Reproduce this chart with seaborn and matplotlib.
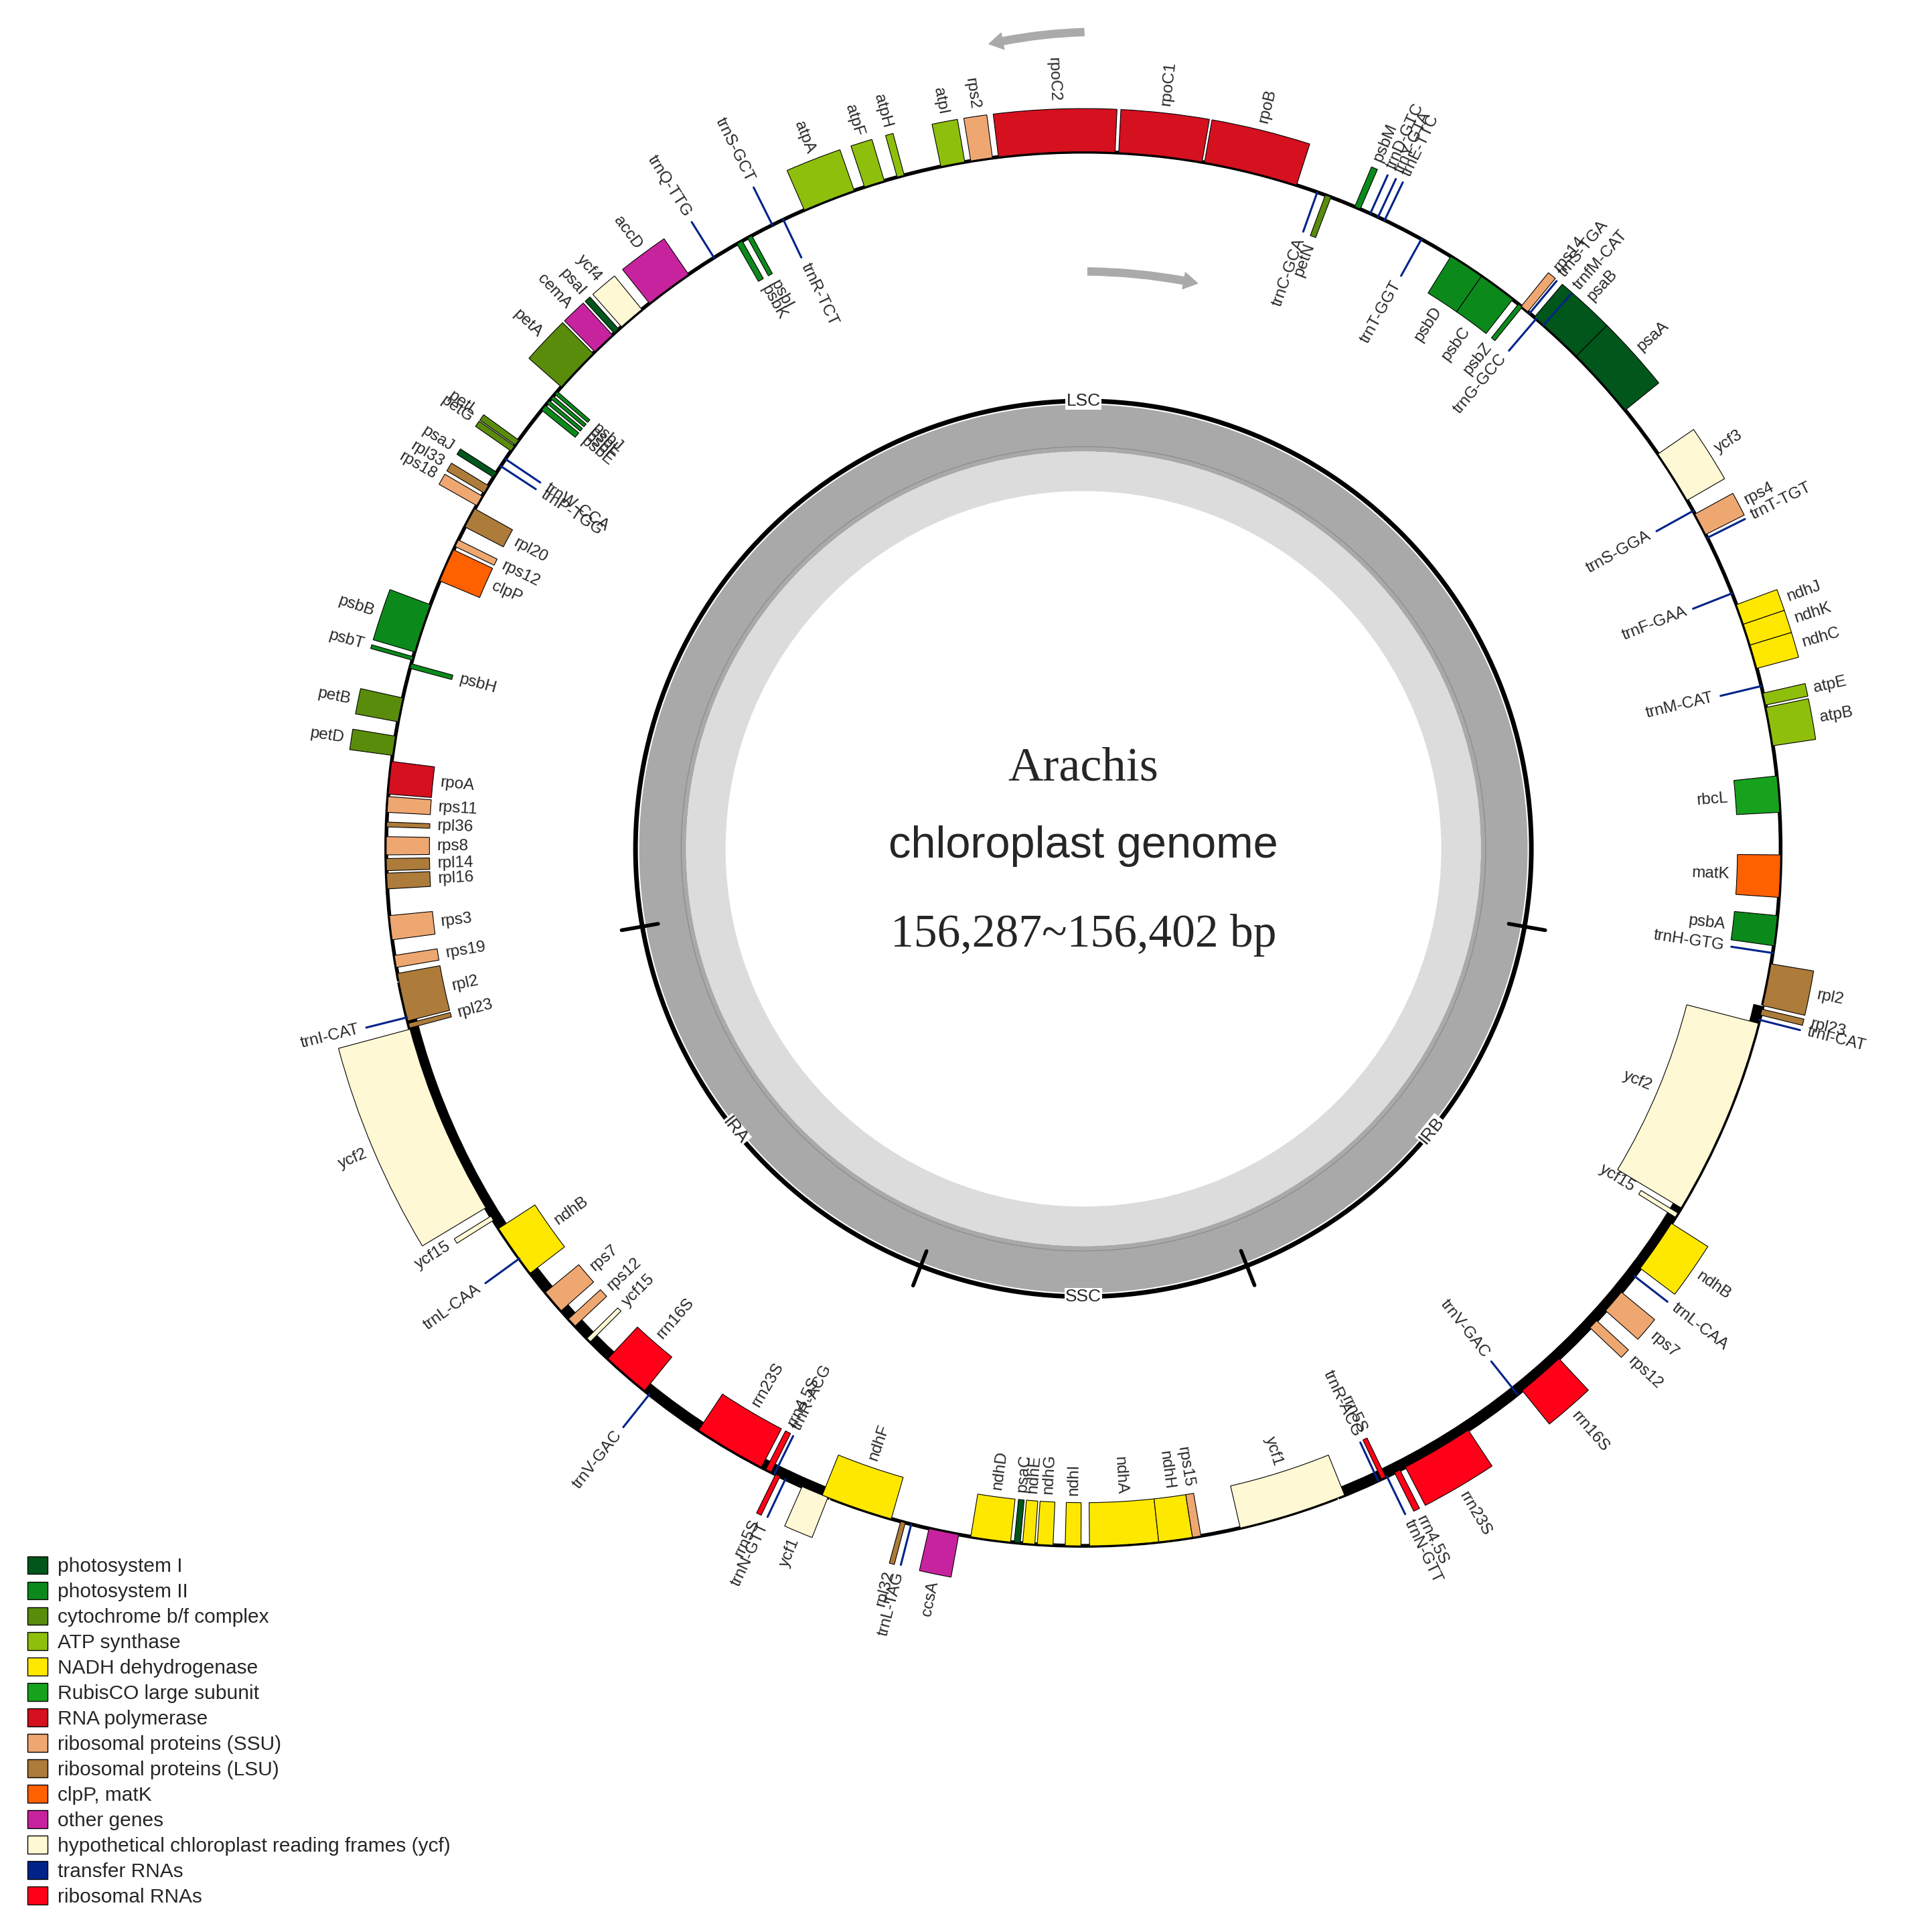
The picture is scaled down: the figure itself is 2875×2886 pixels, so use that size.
import numpy as np
import matplotlib
matplotlib.use('Agg')
import matplotlib.pyplot as plt
from matplotlib.patches import Wedge, Patch
import seaborn as sns

sns.set_style("white")
plt.rcParams['font.family'] = ['Liberation Sans', 'DejaVu Sans']

# ---- data: angles in degrees clockwise from top ----
gene_names = ['rpoC2', 'rpoC1', 'rpoB', 'rps2', 'atpI', 'atpH', 'atpF', 'atpA', 'accD', 'ycf4', 'psaI',
              'cemA', 'petA', 'petL', 'petG', 'psaJ', 'rpl33', 'rps18', 'psbB', 'psbT', 'petB', 'petD',
              'ycf2', 'ycf15', 'ycf1', 'rpl32', 'ccsA', 'rrn23S', 'rrn4.5S', 'rrn16S', 'rps12', 'rps7',
              'ndhB', 'rpl2', 'rpl23', 'atpB', 'atpE', 'ndhC', 'ndhK', 'ndhJ', 'rps4', 'ycf3', 'psaA',
              'psaB', 'rps14', 'psbM', 'rrn5S',
              'psbD', 'psbC', 'psbZ', 'petN', 'psbK', 'psbI', 'psbJ', 'psbL', 'psbF', 'psbE', 'rpl20',
              'rps12', 'clpP', 'psbH', 'rpoA', 'rps11', 'rpl36', 'rps8', 'rpl14', 'rpl16', 'rps3',
              'rps19', 'rpl2', 'rpl23', 'ndhB', 'rps7', 'rps12', 'ycf15', 'rrn16S', 'rrn23S', 'rrn4.5S',
              'ndhF', 'ndhD', 'psaC', 'ndhE', 'ndhG', 'ndhI', 'ndhA', 'ndhH', 'rps15', 'ycf1', 'rrn5S',
              'ycf2', 'ycf15', 'psbA', 'matK', 'rbcL']
gene_start = [-7, 2.9, 10, -9.3, -11.8, -15.5, -18.3, -23.6, -38.5, -41.5, -42.3,
              -44.5, -48.5, -54.6, -55.2, -57.8, -59.3, -60.5, -73.6, -74.3, -79.5, -82.3,
              239, 237.8, 201.5, 194.8, 190.3, 146.5, 153, 137, 132.6, 129.5,
              122.5, 99.5, 103.3, 78.3, 77.1, 73, 71.2, 69.5, 61.3, 55.5, 45,
              40.3, 38.9, 22.9, 205.8,
              31.8, 34.8, 38.6, 20.3, -29.8, -28.8, -49.3, -49.8, -50.3, -51, -62.5,
              -64.3, -67.4, -75, -85.5, -87, -88.2, -90.5, -91.8, -93.3, -97.5,
              -99.8, -104.3, -104.9, 232.5, 228.5, 226.8, 225, 219, 207.5, 206.6,
              196, 186, 185.2, 184, 182.5, 180.2, 173.8, 171, 170.3, 158, 154.3,
              104.5, 121.5, 95.5, 90.5, 84]
gene_end = [2.6, 9.8, 17.8, -7.5, -9.8, -14.9, -16.6, -19.2, -34.5, -39.3, -41.8,
            -42.5, -44.7, -54.1, -54.7, -57.3, -58.6, -59.6, -69.5, -74.0, -77.5, -80.7,
            255, 238.2, 203.8, 195.2, 192.8, 152.5, 153.5, 141, 133.4, 131.5,
            127, 103, 103.8, 81.5, 78.1, 75, 73, 71.2, 63.2, 60, 51,
            45, 39.6, 23.4, 206.2,
            34.8, 38, 39, 20.8, -29.3, -28.4, -49.0, -49.5, -50.0, -50.5, -60.8,
            -63.7, -64.6, -74.6, -82.8, -85.7, -87.8, -89, -90.8, -92.0, -95.5,
            -98.8, -100.3, -104.5, 237, 230.5, 227.6, 225.4, 223, 213.5, 207.1,
            202, 189.3, 185.7, 185, 183.8, 181.5, 179.5, 173.8, 171, 167, 154.7,
            121, 121.9, 98, 94, 87]
gene_cat = ['rnap', 'rnap', 'rnap', 'ssu', 'atp', 'atp', 'atp', 'atp', 'other', 'ycf', 'psi',
            'other', 'cyt', 'cyt', 'cyt', 'psi', 'lsu', 'ssu', 'psii', 'psii', 'cyt', 'cyt',
            'ycf', 'ycf', 'ycf', 'lsu', 'other', 'rrna', 'rrna', 'rrna', 'ssu', 'ssu',
            'ndh', 'lsu', 'lsu', 'atp', 'atp', 'ndh', 'ndh', 'ndh', 'ssu', 'ycf', 'psi',
            'psi', 'ssu', 'psii', 'rrna',
            'psii', 'psii', 'psii', 'cyt', 'psii', 'psii', 'psii', 'psii', 'psii', 'psii', 'lsu',
            'ssu', 'clpp', 'psii', 'rnap', 'ssu', 'lsu', 'ssu', 'lsu', 'lsu', 'ssu',
            'ssu', 'lsu', 'lsu', 'ndh', 'ssu', 'ssu', 'ycf', 'rrna', 'rrna', 'rrna',
            'ndh', 'ndh', 'psi', 'ndh', 'ndh', 'ndh', 'ndh', 'ndh', 'ssu', 'ycf', 'rrna',
            'ycf', 'ycf', 'psii', 'clpp', 'rubisco']
gene_side = [1] * 47 + [-1] * 48

trna_names = ['trnQ-TTG', 'trnS-GCT', 'trnR-TCT', 'trnC-GCA', 'trnD-GTC', 'trnY-GTA', 'trnE-TTC',
              'trnT-GGT', 'trnS-TGA', 'trnG-GCC', 'trnfM-CAT', 'trnT-TGT', 'trnS-GGA', 'trnF-GAA',
              'trnM-CAT', 'trnH-GTG', 'trnI-CAT', 'trnL-CAA', 'trnV-GAC', 'trnN-GTT', 'trnR-ACG',
              'trnL-TAG', 'trnN-GTT', 'trnR-ACG', 'trnV-GAC', 'trnL-CAA', 'trnI-CAT', 'trnW-CCA',
              'trnP-TGG']
trna_angle = [-32, -26.5, -25.5, 19.6, 24.3, 25, 25.6, 29, 39.8, 40.5, 41.3, 63.5, 61, 68.5,
              76.5, 98.6, 104.2, 127.8, 141.5, 154.2, 155, 194.3, 205.3, 206.3, 218.5, 234, 256,
              -56, -56.7]
trna_side = [1, 1, -1, -1, 1, 1, 1, -1, 1, -1, 1, 1, -1, -1, -1, -1, 1, 1, -1, 1, -1,
             1, 1, -1, 1, 1, 1, -1, -1]

region_names = ['LSC', 'IRB', 'SSC', 'IRA']
region_angle = [0, 129, 180, 231]
region_bounds = [100, 158.6, 201.3, 260]

cat_keys = ['psi', 'psii', 'cyt', 'atp', 'ndh', 'rubisco', 'rnap', 'ssu', 'lsu', 'clpp',
            'other', 'ycf', 'trna', 'rrna']
cat_labels = ['photosystem I', 'photosystem II', 'cytochrome b/f complex', 'ATP synthase',
              'NADH dehydrogenase', 'RubisCO large subunit', 'RNA polymerase',
              'ribosomal proteins (SSU)', 'ribosomal proteins (LSU)', 'clpP, matK',
              'other genes', 'hypothetical chloroplast reading frames (ycf)',
              'transfer RNAs', 'ribosomal RNAs']
cat_colors = ['#00561b', '#0b8a1b', '#5a8c0c', '#8ebf0c', '#ffe800', '#17a21d', '#d5101f',
              '#efa772', '#ad7b3a', '#ff6000', '#c8239f', '#fff8d4', '#00238a', '#ff0018']
color_of = dict(zip(cat_keys, cat_colors))

CX, CY = 878, 878
R = 565
H = 35


def pt(theta, r):
    t = np.deg2rad(theta)
    return CX + r * np.sin(t), CY + r * np.cos(t)


def label(ax, theta, r, text, outward, fs=17.5):
    th = (theta + 180) % 360 - 180
    phi = 90 - th
    right = 0 <= th <= 180
    rot = phi if right else phi + 180
    if right:
        ha = 'left' if outward else 'right'
    else:
        ha = 'right' if outward else 'left'
    x, y = pt(theta, r)
    ax.text(x, y, text, rotation=rot, rotation_mode='anchor', ha=ha, va='center', fontsize=fs)


fig = plt.figure(figsize=(28.75, 28.86), dpi=100)
ax = fig.add_axes([0, 0, 1, 1])
ax.set_xlim(0, 1560)
ax.set_ylim(0, 1566)
ax.set_aspect('equal')
ax.axis('off')

# GC content rings
ax.add_patch(Wedge((CX, CY), 360, 0, 360, width=38, facecolor='#a9a9a9', edgecolor='none'))
ax.add_patch(Wedge((CX, CY), 322, 0, 360, width=32, facecolor='#dcdcdc', edgecolor='none'))
ax.add_patch(plt.Circle((CX, CY), 326, fill=False, edgecolor='#888888', lw=0.8))
ax.add_patch(plt.Circle((CX, CY), 363, fill=False, edgecolor='black', lw=5))
for b in region_bounds:
    x0, y0 = pt(b, 350)
    x1, y1 = pt(b, 380)
    ax.plot([x0, x1], [y0, y1], color='black', lw=4)
for name, a in zip(region_names, region_angle):
    x, y = pt(a, 363)
    rot = -a
    if rot < -90:
        rot += 180
    ax.text(x, y, name, ha='center', va='center', rotation=rot, fontsize=19,
            bbox=dict(facecolor='white', edgecolor='none', pad=1))

# genome circle with IR thick arcs
ax.add_patch(plt.Circle((CX, CY), R, fill=False, edgecolor='black', lw=4))
for a0, a1 in [(region_bounds[0] + 3, region_bounds[1]), (region_bounds[2], region_bounds[3] - 1)]:
    ax.add_patch(Wedge((CX, CY), R + 2, 90 - a1, 90 - a0, width=10, facecolor='black'))

# genes
for n, s, e, c, side in zip(gene_names, gene_start, gene_end, gene_cat, gene_side):
    h = 60 if n == 'ycf2' else H
    rout = R + h if side == 1 else R
    ax.add_patch(Wedge((CX, CY), rout, 90 - e, 90 - s, width=h, facecolor=color_of[c],
                       edgecolor='black', lw=0.8))
    mid = (s + e) / 2
    if side == 1:
        label(ax, mid, R + h + 6, n, True)
    else:
        label(ax, mid, R - h - 6, n, False)

# tRNAs
for n, a, side in zip(trna_names, trna_angle, trna_side):
    r1 = R + 34 * side
    x0, y0 = pt(a, R)
    x1, y1 = pt(a, r1)
    ax.plot([x0, x1], [y0, y1], color=color_of['trna'], lw=2.2)
    label(ax, a, r1 + 6 * side, n, side == 1)

# center text
ax.text(CX, 1566 - 623, 'Arachis', ha='center', va='center', fontsize=52, family='Liberation Serif')
ax.text(CX, 1566 - 686, 'chloroplast genome', ha='center', va='center', fontsize=48)
ax.text(CX, 1566 - 758, '156,287~156,402 bp', ha='center', va='center', fontsize=50,
        family='Liberation Serif')

# direction arrows
ax.annotate('', xy=(800, 1566 - 36), xytext=(880, 1566 - 26),
            arrowprops=dict(arrowstyle='simple,head_width=1.8,head_length=1.5,tail_width=0.8',
                            color='#aaaaaa', connectionstyle='arc3,rad=0.05'))
ax.annotate('', xy=(972, 1566 - 230), xytext=(880, 1566 - 220),
            arrowprops=dict(arrowstyle='simple,head_width=1.8,head_length=1.5,tail_width=0.8',
                            color='#aaaaaa', connectionstyle='arc3,rad=-0.05'))

handles = [Patch(facecolor=c, edgecolor='black', label=l) for c, l in zip(cat_colors, cat_labels)]
fig.legend(handles=handles, loc='lower left', bbox_to_anchor=(0.005, 0.004), frameon=False,
           fontsize=21.5, handlelength=1.0, handleheight=1.0, handletextpad=0.5, labelspacing=0.28)

fig.savefig('out.png', dpi=100)
